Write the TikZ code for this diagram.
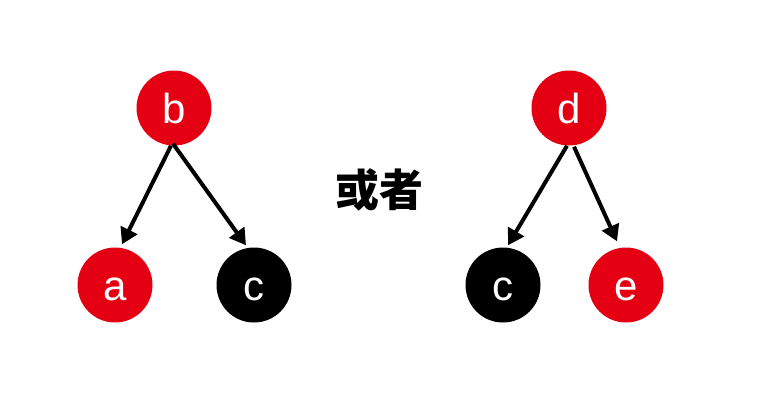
\documentclass[tikz,border=0pt]{standalone}
\usepackage{fontspec}
\setmainfont{Liberation Sans}
\newfontfamily\cjk{Noto Sans CJK SC}
\usetikzlibrary{arrows.meta}
\definecolor{nred}{RGB}{228,0,18}
\begin{document}
\begin{tikzpicture}[x=1pt,y=-1pt,
  vtx/.style={circle,minimum size=75pt,inner sep=0pt,text=white,
    text height=30pt,text depth=0pt,font=\fontsize{42}{42}\selectfont},
  rvtx/.style={vtx,fill=nred},
  bvtx/.style={vtx,fill=black},
  edge/.style={line width=4pt,-{Triangle[length=16pt,width=18pt]}}]
\useasboundingbox[fill=white] (0,0) rectangle (772,416);
\node[rvtx] (b) at (174,108) {b};
\node[rvtx] (a) at (115,285) {a};
\node[bvtx] (c) at (254,285) {c};
\node[rvtx] (d) at (569,108) {d};
\node[bvtx] (c2) at (503,285) {c};
\node[rvtx] (e) at (626,285) {e};
\node (or) at (379,190) {\cjk\bfseries\fontsize{44}{44}\selectfont 或者};
\draw[edge] ([xshift=-3pt]b.south) -- ([xshift=7pt,yshift=3pt]a.north);
\draw[edge] ([xshift=-1pt,yshift=2pt]b.south) -- ([xshift=-8pt,yshift=2pt]c.north);
\draw[edge] ([xshift=-2pt]d.south) -- ([xshift=5pt,yshift=2pt]c2.north);
\draw[edge] ([xshift=5pt,yshift=-1pt]d.south) -- ([xshift=-9pt,yshift=6pt]e.north);
\end{tikzpicture}
\end{document}
